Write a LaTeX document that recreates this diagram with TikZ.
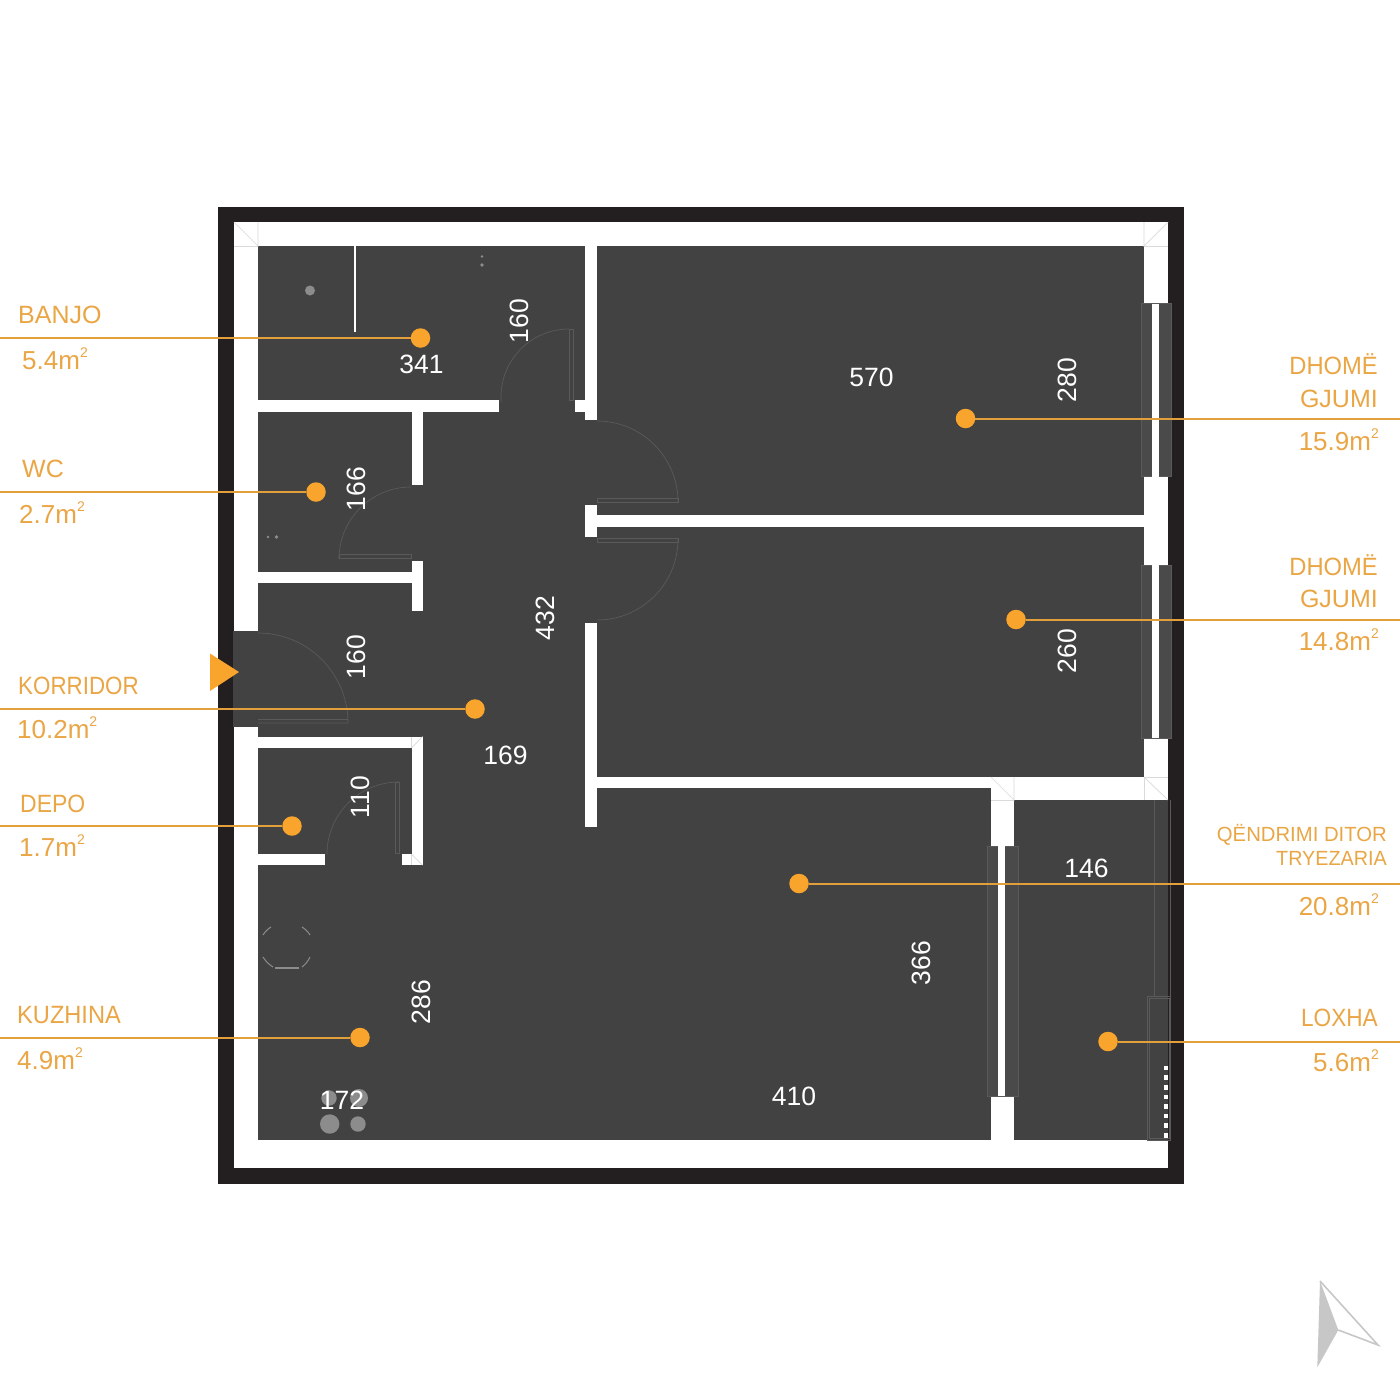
\documentclass[tikz,border=0pt]{standalone}
\usepackage{fontspec}
\setmainfont{Liberation Sans}
\definecolor{borderblack}{HTML}{231F20}
\definecolor{floorgrey}{HTML}{424242}
\definecolor{framegrey}{HTML}{4A4A4A}
\definecolor{doorgrey}{HTML}{5A5A5A}
\definecolor{mitregrey}{HTML}{DADADA}
\definecolor{dotgrey}{HTML}{8C8C8C}
\definecolor{spotorange}{HTML}{F9A42D}
\definecolor{leaderorange}{HTML}{E3A03A}
\definecolor{labelorange}{HTML}{EAA645}
\newcommand{\sqmetre}{m\raisebox{12pt}{\fontsize{14}{14}\selectfont 2}}
\begin{document}
\begin{tikzpicture}[x=1pt,y=-1pt,
    wall/.style={fill=white},
    floorfill/.style={fill=floorgrey},
    doorline/.style={draw=doorgrey,line width=0.7pt},
    framebox/.style={fill=framegrey,draw=doorgrey,line width=0.8pt},
    mitre/.style={draw=mitregrey,line width=0.7pt},
    spot/.style={circle,fill=spotorange,inner sep=0pt,minimum size=19.5pt},
    leader/.style={draw=leaderorange,line width=2pt},
    sizelabel/.style={text=white,inner sep=0pt,font=\fontsize{26.5}{30}\selectfont},
    roomlabel/.style={text=labelorange,inner sep=0pt,font=\fontsize{25}{30}\selectfont},
    roomarea/.style={text=labelorange,inner sep=0pt,font=\fontsize{26}{30}\selectfont},
    roomsmall/.style={text=labelorange,inner sep=0pt,font=\fontsize{20.5}{24}\selectfont},
    grain/.style={fill=dotgrey}]
    \useasboundingbox[fill=white] (0,0) rectangle (1400,1400);

    \fill[borderblack] (218,207) rectangle (1184,1184);
    \fill[wall] (234,222) rectangle (1168,1168);
    \fill[floorfill] (258,246) rectangle (1144,1140);
    \fill[floorfill] (1014,800) rectangle (1168,1140);
    \fill[floorfill] (233,631) rectangle (258,727);% entrance

    % walls
    \fill[wall] (1144,246) rectangle (1168,800);
    \fill[wall] (353.5,246) rectangle (356,332);
    \fill[wall] (585,246) rectangle (597,419.5);
    \fill[wall] (575,400) rectangle (585,411.5);
    \fill[wall] (258,400) rectangle (499,411.5);
    \fill[wall] (411.5,411) rectangle (423,485);
    \fill[wall] (411.5,561) rectangle (423,611);
    \fill[wall] (258,571.5) rectangle (411.5,583);
    \fill[wall] (585,505) rectangle (597,537);
    \fill[wall] (597,515) rectangle (1144,527);
    \fill[wall] (585,622.5) rectangle (597,826.5);
    \fill[wall] (597,777) rectangle (1014,788);
    \fill[wall] (991,777) rectangle (1168,800);
    \fill[wall] (991,788) rectangle (1014,846);
    \fill[wall] (991,1096) rectangle (1014,1140);
    \fill[wall] (258,736.5) rectangle (422.5,748);
    \fill[wall] (411.5,736.5) rectangle (422.5,865);
    \fill[wall] (401.5,854) rectangle (411.5,865);
    \fill[wall] (258,854) rectangle (325,865);

    % windows
    \filldraw[framebox] (1141.5,303.5) rectangle (1171.5,476.5);
    \fill[wall] (1151.7,303.5) rectangle (1159.3,476.5);
    \filldraw[framebox] (1141.5,565) rectangle (1171.5,738);
    \fill[wall] (1151.7,565) rectangle (1159.3,738);
    \filldraw[framebox] (987.7,846) rectangle (1018.3,1096);
    \fill[wall] (998.3,846) rectangle (1005.3,1096);

    % doors
    \draw[doorline] (258,633) arc (-90:0:90) -- (348,723) -- (258,723);
    \draw[doorline] (258,719) -- (348,719);
    \draw[doorline] (569,329) arc (-90:-180:68) -- (501,402);
    \draw[doorline] (569,329) rectangle (573,400);
    \draw[doorline] (411,487) arc (-90:-180:72);
    \draw[doorline] (339,554) rectangle (411,558);
    \draw[doorline] (597,421) arc (-90:0:81);
    \draw[doorline] (597,498) rectangle (678,502);
    \draw[doorline] (597,620) arc (90:0:81);
    \draw[doorline] (597,538) rectangle (678,542);
    \draw[doorline] (399,782) arc (-90:-180:72);
    \draw[doorline] (395,782) rectangle (399,853);

    % wall corners
    \draw[mitre] (234,222) -- (258,246) -- (258,222);
    \draw[mitre] (234,246) -- (258,246);
    \draw[mitre] (1168,222) -- (1144,246) -- (1144,222);
    \draw[mitre] (1144,246) -- (1168,246);
    \draw[mitre] (991,777) -- (1014,800) -- (1014,777);
    \draw[mitre] (991,800) -- (1014,800);
    \draw[mitre] (1144,777) -- (1168,800);
    \draw[mitre] (1144,777) -- (1168,777);
    \draw[mitre] (1144,777) -- (1144,800);
    \draw[mitre] (411.5,748) -- (422.5,736.5);
    \draw[mitre] (411.5,736.5) -- (411.5,748);
    \draw[mitre] (411.5,854) -- (422.5,865);
    \draw[mitre] (411.5,854) -- (411.5,865);

    % loxha
    \draw[doorline] (1154.5,800) -- (1154.5,996);
    \draw[doorline] (1170,800) -- (1170,1140);
    \draw[doorline] (1147.5,996) rectangle (1170,1140);
    \draw[doorline] (1149.5,998) rectangle (1169,1138);
    \foreach \k in {0,...,7}
        \fill[wall] (1163.5,1065.8+9.6*\k) rectangle (1168,1070.3+9.6*\k);

    % fittings
    \fill[dotgrey] (310,290.5) circle (5);
    \fill[grain] (482,256.5) circle (1.4);
    \fill[grain] (482,265) circle (1.8);
    \fill[grain] (268,537) circle (1.3);
    \fill[grain] (276.5,537) circle (1.8);
    \fill[dotgrey] (329,1098) circle (7.7);
    \fill[dotgrey] (359,1098) circle (9);
    \fill[dotgrey] (329.7,1124) circle (9.7);
    \fill[dotgrey] (358,1124) circle (7.7);
    \draw[draw=dotgrey,line width=1pt] (263,935) to[bend left=12] (271,927);
    \draw[draw=dotgrey,line width=1pt] (302,927) to[bend left=12] (310,935);
    \draw[draw=dotgrey,line width=1pt] (263,957) to[bend right=12] (273,967);
    \draw[draw=dotgrey,line width=1pt] (310,957) to[bend left=12] (302,967);
    \draw[draw=dotgrey,line width=1.2pt] (275,968) -- (299,968);

    % entrance arrow
    \fill[spotorange] (210,653.5) -- (239,672) -- (210,691) -- cycle;

    % room spots
    \node[spot] (banjo) at (420.5,338) {};
    \node[spot] (wc) at (316,492) {};
    \node[spot] (korridor) at (475,709) {};
    \node[spot] (depo) at (292,826) {};
    \node[spot] (kuzhina) at (360,1037.5) {};
    \node[spot] (gjumia) at (965.5,418.5) {};
    \node[spot] (gjumib) at (1016,619.5) {};
    \node[spot] (ditor) at (799,883.5) {};
    \node[spot] (loxha) at (1108,1041.5) {};

    \coordinate (banjoend) at (0,338);
    \coordinate (wcend) at (0,492);
    \coordinate (korridorend) at (0,709);
    \coordinate (depoend) at (0,826);
    \coordinate (kuzhinaend) at (0,1037.5);
    \coordinate (gjumiaend) at (1400,418.5);
    \coordinate (gjumibend) at (1400,619.5);
    \coordinate (ditorend) at (1400,883.5);
    \coordinate (loxhaend) at (1400,1041.5);

    \draw[leader] (banjoend) -- (banjo);
    \draw[leader] (wcend) -- (wc);
    \draw[leader] (korridorend) -- (korridor);
    \draw[leader] (depoend) -- (depo);
    \draw[leader] (kuzhinaend) -- (kuzhina);
    \draw[leader] (gjumia) -- (gjumiaend);
    \draw[leader] (gjumib) -- (gjumibend);
    \draw[leader] (ditor) -- (ditorend);
    \draw[leader] (loxha) -- (loxhaend);

    % room names, left
    \node[roomlabel,anchor=base west] (banjoname) at (18,323.5) {BANJO};
    \node[roomarea,anchor=base west] (banjoarea) at (22,369) {5.4\sqmetre};
    \node[roomlabel,anchor=base west] (wcname) at (22,477.5) {WC};
    \node[roomarea,anchor=base west] (wcarea) at (19,523) {2.7\sqmetre};
    \node[roomlabel,anchor=base west,xscale=0.895] (korridorname) at (18,694.5) {KORRIDOR};
    \node[roomarea,anchor=base west] (korridorarea) at (17,738) {10.2\sqmetre};
    \node[roomlabel,anchor=base west,xscale=0.92] (deponame) at (20,812.5) {DEPO};
    \node[roomarea,anchor=base west] (depoarea) at (19,856) {1.7\sqmetre};
    \node[roomlabel,anchor=base west,xscale=0.945] (kuzhinaname) at (17,1023.5) {KUZHINA};
    \node[roomarea,anchor=base west] (kuzhinaarea) at (17,1069) {4.9\sqmetre};

    % room names, right
    \node[roomlabel,anchor=base east,xscale=0.95] (gjumianame) at (1378,374) {DHOMË};
    \node[roomlabel,anchor=base east] (gjumianamb) at (1378,407) {GJUMI};
    \node[roomarea,anchor=base east] (gjumiaarea) at (1379,450) {15.9\sqmetre};
    \node[roomlabel,anchor=base east,xscale=0.95] (gjumibname) at (1378,575) {DHOMË};
    \node[roomlabel,anchor=base east] (gjumibnamb) at (1378,607) {GJUMI};
    \node[roomarea,anchor=base east] (gjumibarea) at (1379,650) {14.8\sqmetre};
    \node[roomsmall,anchor=base east,xscale=0.99] (ditorname) at (1387,841) {QËNDRIMI DITOR};
    \node[roomsmall,anchor=base east,xscale=0.965] (ditornamb) at (1387,865) {TRYEZARIA};
    \node[roomarea,anchor=base east] (ditorarea) at (1379,915) {20.8\sqmetre};
    \node[roomlabel,anchor=base east,xscale=0.905] (loxhaname) at (1378,1026) {LOXHA};
    \node[roomarea,anchor=base east] (loxhaarea) at (1379,1071) {5.6\sqmetre};

    % sizes
    \node[sizelabel] (sa) at (421.5,364.5) {341};
    \node[sizelabel,rotate=90] (sb) at (519.5,321) {160};
    \node[sizelabel,rotate=90] (sc) at (356.5,489) {166};
    \node[sizelabel,rotate=90] (sd) at (356.5,657) {160};
    \node[sizelabel,rotate=90] (se) at (545,618) {432};
    \node[sizelabel] (sf) at (505.5,755.5) {169};
    \node[sizelabel,rotate=90] (sg) at (360,797) {110};
    \node[sizelabel] (sh) at (871.5,377) {570};
    \node[sizelabel,rotate=90] (si) at (1067,380) {280};
    \node[sizelabel,rotate=90] (sj) at (1067,651) {260};
    \node[sizelabel] (sk) at (1086.5,868) {146};
    \node[sizelabel,rotate=90] (sl) at (921.5,963) {366};
    \node[sizelabel,rotate=90] (sm) at (421,1002) {286};
    \node[sizelabel] (sn) at (794,1096) {410};
    \node[sizelabel] (so) at (342,1100) {172};

    % north arrow
    \fill[black!22] (1320,1281) -- (1338.3,1330) -- (1317.3,1367.3) -- cycle;
    \draw[black!22,line width=1.6pt,line join=miter] (1320,1281) -- (1378,1345) -- (1338.3,1330);
\end{tikzpicture}
\end{document}
